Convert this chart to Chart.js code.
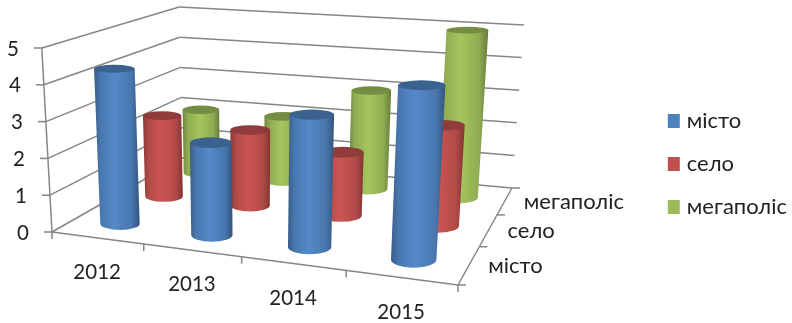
<!DOCTYPE html>
<html>
<head>
<meta charset="utf-8">
<title>chart</title>
<style>
  html, body { margin: 0; padding: 0; background: #fff; }
  canvas { display: block; }
</style>
<script src="https://cdn.jsdelivr.net/npm/chart.js@4/dist/chart.umd.js"></script>
</head>
<body>
<canvas id="myChart" width="792" height="323"></canvas>
<script>
var years = ["2012", "2013", "2014", "2015"];
var seriesNames = ["місто", "село", "мегаполіс"];
var cityValues = [4.3, 2.5, 3.5, 4.5];
var villageValues = [2.4, 2.2, 1.8, 2.8];
var megapolisValues = [2, 2, 3, 5];
var seriesColors = ["#4f81bd", "#c0504d", "#9bbb59"];

var fontName = "Lato, 'Noto Sans', sans-serif";
var axisColor = "#868686";
var textColor = "#222222";

// floor corners on screen: front-left, front-right, back-right, back-left
var floorCorners = [[52, 232], [458, 285], [512, 188], [182, 158]];
// wall height in pixels over those same corners
var cornerHeights = [184, 204, 163, 151];
// verticals lean away from this x, a little more the higher they go
var leanCenter = 250;
var leanRate = 0.00028;

function squareToQuad(q) {
    var dx1 = q[1][0] - q[2][0], dx2 = q[3][0] - q[2][0], sx = q[0][0] - q[1][0] + q[2][0] - q[3][0];
    var dy1 = q[1][1] - q[2][1], dy2 = q[3][1] - q[2][1], sy = q[0][1] - q[1][1] + q[2][1] - q[3][1];
    var den = dx1 * dy2 - dx2 * dy1;
    var g = (sx * dy2 - dx2 * sy) / den;
    var h = (dx1 * sy - sx * dy1) / den;
    var a = q[1][0] - q[0][0] + g * q[1][0];
    var b = q[3][0] - q[0][0] + h * q[3][0];
    var d = q[1][1] - q[0][1] + g * q[1][1];
    var e = q[3][1] - q[0][1] + h * q[3][1];
    return function (u, v) {
        var w = g * u + h * v + 1;
        return [(a * u + b * v + q[0][0]) / w, (d * u + e * v + q[0][1]) / w];
    };
}

var floorMap = squareToQuad(floorCorners);

// u along the years, v into the depth, t up the value axis (all 0..1)
function project(u, v, t) {
    // the year spacing grows a bit slower than the plain floor mapping
    var f = floorMap(u + 0.04 * u * (1 - u), v);
    var wall = 1 / ((1 - u) * (1 - v) / cornerHeights[0] + u * (1 - v) / cornerHeights[1] +
        u * v / cornerHeights[2] + (1 - u) * v / cornerHeights[3]);
    var rise = wall * t;
    return [f[0] + (f[0] - leanCenter) * leanRate * rise, f[1] - rise];
}

function shade(hex, k) {
    var n = parseInt(hex.slice(1), 16);
    var c = [n >> 16, (n >> 8) & 255, n & 255].map(function (x) {
        return Math.min(255, Math.round(x * k));
    });
    return "rgb(" + c.join(",") + ")";
}

// the ellipses flatten towards the top of the picture
function ellipseRatio(y) {
    return 0.14 + 0.0008 * y;
}

function cylinderRadius(u, v, t, halfWidth) {
    return 5 + 0.75 * (project(u + halfWidth, v, t)[0] - project(u - halfWidth, v, t)[0]) / 2;
}

function drawCylinder(ctx, color, u, v, t, halfWidth) {
    var bottom = project(u, v, 0), top = project(u, v, t);
    var rxB = cylinderRadius(u, v, 0, halfWidth);
    var rxT = cylinderRadius(u, v, t, halfWidth);
    var ryB = rxB * ellipseRatio(bottom[1]);
    var ryT = rxT * ellipseRatio(top[1]);

    var grad = ctx.createLinearGradient(Math.min(bottom[0] - rxB, top[0] - rxT), 0, Math.max(bottom[0] + rxB, top[0] + rxT), 0);
    grad.addColorStop(0, shade(color, 0.72));
    grad.addColorStop(0.14, shade(color, 0.92));
    grad.addColorStop(0.45, shade(color, 1.06));
    grad.addColorStop(0.82, shade(color, 0.92));
    grad.addColorStop(1, shade(color, 0.66));

    ctx.beginPath();
    ctx.moveTo(top[0] - rxT, top[1]);
    ctx.lineTo(bottom[0] - rxB, bottom[1]);
    ctx.ellipse(bottom[0], bottom[1], rxB, ryB, 0, Math.PI, 0, true);
    ctx.lineTo(top[0] + rxT, top[1]);
    ctx.closePath();
    ctx.fillStyle = grad;
    ctx.fill();

    ctx.beginPath();
    ctx.ellipse(top[0], top[1], rxT, ryT, 0, 0, Math.PI * 2);
    ctx.fillStyle = shade(color, 0.75);
    ctx.fill();
}

// bar controller that hands each computed bar to the cylinder painter
class Cylinder3DController extends Chart.BarController {
    draw() {
        var chart = this.chart, meta = this.getMeta();
        var xScale = chart.scales.x, yScale = chart.scales.y;
        var ctx = chart.ctx;
        var v = (meta.index + 0.46) / seriesNames.length;
        var color = seriesColors[meta.index];
        meta.data.forEach(function (bar) {
            var u = (bar.x - xScale.left) / xScale.width;
            var t = (bar.base - bar.y) / (yScale.bottom - yScale.top);
            var halfWidth = bar.width / xScale.width / 2;
            drawCylinder(ctx, color, u, v, t, halfWidth);
        });
    }
}
Cylinder3DController.id = "cylinder3d";
Cylinder3DController.defaults = Chart.BarController.defaults;
Cylinder3DController.overrides = Chart.BarController.overrides;
Chart.register(Cylinder3DController);

function line(ctx, a, b) {
    ctx.beginPath();
    ctx.moveTo(a[0], a[1]);
    ctx.lineTo(b[0], b[1]);
    ctx.stroke();
}

// walls, floor, ticks and the three axes' labels
var boxPlugin = {
    id: "box",
    beforeDatasetsDraw: function (chart) {
        var ctx = chart.ctx, yScale = chart.scales.y, xScale = chart.scales.x;
        var depthCount = seriesNames.length;
        ctx.save();
        ctx.strokeStyle = axisColor;
        ctx.lineWidth = 1.5;
        ctx.fillStyle = textColor;
        ctx.font = "20.5px " + fontName;
        ctx.textBaseline = "middle";

        // value axis and gridlines along both walls
        ctx.textAlign = "right";
        line(ctx, project(0, 0, 0), project(0, 0, 1));
        yScale.ticks.forEach(function (tick) {
            var t = (yScale.bottom - yScale.getPixelForValue(tick.value)) / (yScale.bottom - yScale.top);
            var front = project(0, 0, t);
            line(ctx, front, project(0, 1, t));
            line(ctx, project(0, 1, t), project(1, 1, t));
            line(ctx, front, [front[0] - 8, front[1]]);
            ctx.fillText(tick.label, front[0] - 23, front[1] + 1);
        });

        // floor edges
        line(ctx, project(0, 0, 0), project(1, 0, 0));
        line(ctx, project(1, 0, 0), project(1, 1, 0));

        // year axis
        ctx.textAlign = "center";
        years.forEach(function (year, i) {
            var u = (xScale.getPixelForValue(i) - xScale.left) / xScale.width;
            var p = project(u, 0, 0);
            ctx.fillText(xScale.getLabelForValue(i), p[0], p[1] + 34.5);
        });
        for (var i = 0; i <= years.length; i++) {
            var p = project(i / years.length, 0, 0);
            line(ctx, p, [p[0], p[1] + 7]);
        }

        // depth axis
        ctx.textAlign = "left";
        ctx.font = "22px " + fontName;
        for (var j = 0; j <= depthCount; j++) {
            var q = project(1, j / depthCount, 0);
            line(ctx, q, [q[0] + 8, q[1]]);
        }
        seriesNames.forEach(function (name, j) {
            var q = project(1, (j + 0.5) / depthCount, 0);
            ctx.fillText(name, q[0] + 19, q[1] + 1);
        });
        ctx.restore();
    }
};

var ctx = document.getElementById("myChart").getContext("2d");
var chart = new Chart(ctx, {
    type: "cylinder3d",
    data: {
        labels: years,
        datasets: seriesNames.map(function (name, i) {
            return {
                label: name,
                data: [cityValues, villageValues, megapolisValues][i],
                backgroundColor: seriesColors[i],
                borderColor: seriesColors[i],
                borderWidth: 8,
                order: i
            };
        })
    },
    options: {
        responsive: false,
        animation: false,
        layout: { padding: { top: 5, right: -5 } },
        datasets: {
            cylinder3d: { grouped: false, categoryPercentage: 0.44, barPercentage: 1 }
        },
        scales: {
            x: { type: "category", display: false, grid: { offset: true }, offset: true },
            y: { type: "linear", display: false, min: 0, max: 5, ticks: { stepSize: 1 } }
        },
        plugins: {
            tooltip: { enabled: false },
            legend: {
                display: true,
                position: "right",
                labels: {
                    color: textColor,
                    boxWidth: 4,
                    boxHeight: 6,
                    padding: 21,
                    font: { family: fontName, size: 22 }
                }
            }
        }
    },
    plugins: [boxPlugin]
});
</script>
</body>
</html>
